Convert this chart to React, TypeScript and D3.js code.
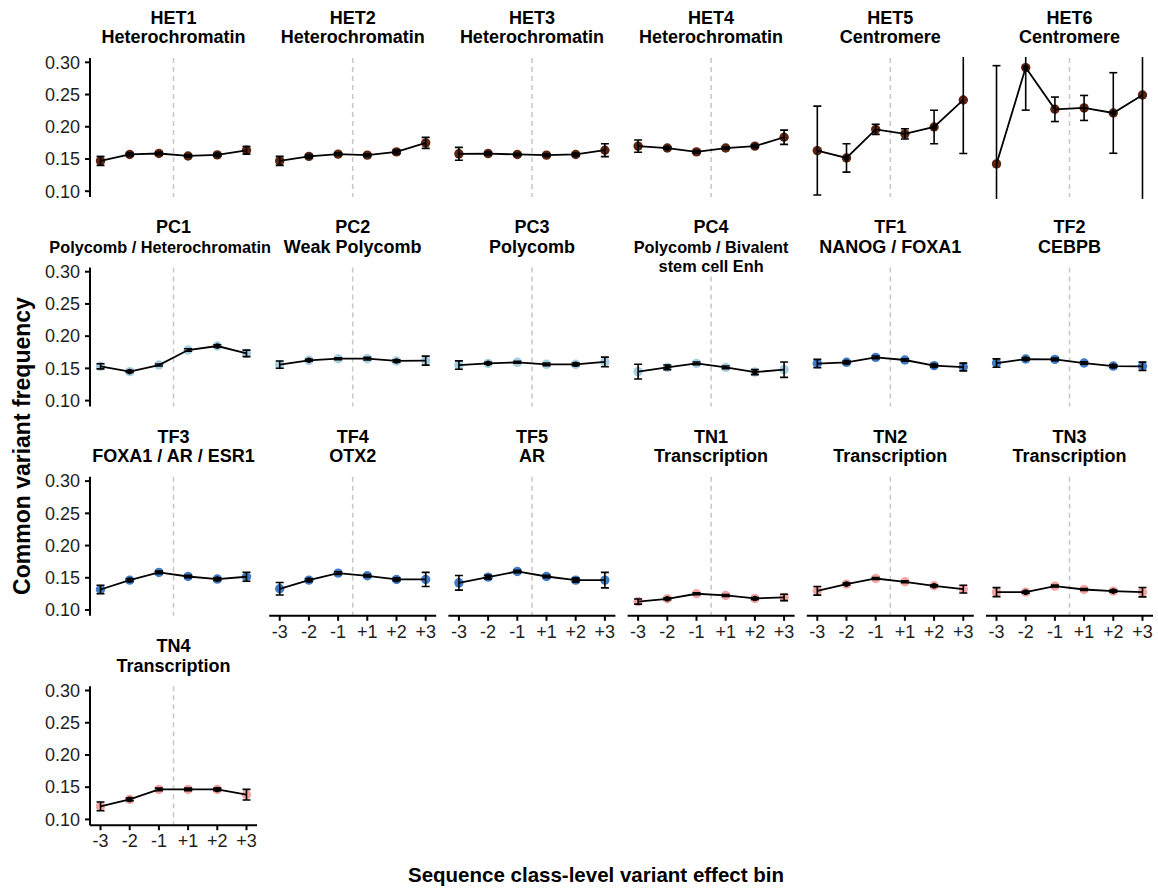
import React from "react";
import * as d3 from "d3";

// ---------- data ----------
const bins = ["-3", "-2", "-1", "+1", "+2", "+3"];
const yTicks = [0.1, 0.15, 0.2, 0.25, 0.3];

const panelCodes = [
  "HET1", "HET2", "HET3", "HET4", "HET5", "HET6",
  "PC1", "PC2", "PC3", "PC4", "TF1", "TF2",
  "TF3", "TF4", "TF5", "TN1", "TN2", "TN3", "TN4",
];
const panelNames = [
  "Heterochromatin", "Heterochromatin", "Heterochromatin", "Heterochromatin", "Centromere", "Centromere",
  "Polycomb / Heterochromatin", "Weak Polycomb", "Polycomb", "Polycomb / Bivalent\nstem cell Enh", "NANOG / FOXA1", "CEBPB",
  "FOXA1 / AR / ESR1", "OTX2", "AR", "Transcription", "Transcription", "Transcription", "Transcription",
];
const panelGroups = [
  "HET", "HET", "HET", "HET", "HET", "HET",
  "PC", "PC", "PC", "PC", "TF", "TF",
  "TF", "TF", "TF", "TN", "TN", "TN", "TN",
];

const freqHET1 = [0.147, 0.157, 0.1585, 0.1547, 0.1563, 0.1635];
const errHET1 = [0.007, 0.002, 0.002, 0.002, 0.002, 0.006];
const freqHET2 = [0.147, 0.154, 0.1575, 0.156, 0.161, 0.175];
const errHET2 = [0.007, 0.002, 0.002, 0.002, 0.003, 0.0085];
const freqHET3 = [0.158, 0.1584, 0.157, 0.156, 0.157, 0.1636];
const errHET3 = [0.01, 0.002, 0.002, 0.002, 0.002, 0.01];
const freqHET4 = [0.17, 0.167, 0.161, 0.167, 0.17, 0.1837];
const errHET4 = [0.0095, 0.002, 0.002, 0.002, 0.002, 0.011];
const freqHET5 = [0.163, 0.1516, 0.196, 0.189, 0.1997, 0.2416];
const errHET5 = [0.069, 0.022, 0.0078, 0.008, 0.026, 0.083];
const freqHET6 = [0.1423, 0.2918, 0.2271, 0.2292, 0.2214, 0.2493];
const errHET6 = [0.1525, 0.066, 0.019, 0.0194, 0.0625, 0.17];
const freqPC1 = [0.1532, 0.145, 0.1552, 0.1785, 0.1847, 0.1733];
const errPC1 = [0.004, 0.0015, 0.0015, 0.002, 0.002, 0.005];
const freqPC2 = [0.1558, 0.1625, 0.165, 0.165, 0.1615, 0.162];
const errPC2 = [0.0057, 0.0015, 0.0015, 0.002, 0.002, 0.007];
const freqPC3 = [0.1552, 0.1578, 0.1594, 0.1563, 0.1563, 0.16];
const errPC3 = [0.0065, 0.0015, 0.0015, 0.002, 0.002, 0.0075];
const freqPC4 = [0.145, 0.1516, 0.1578, 0.1516, 0.1443, 0.148];
const errPC4 = [0.0114, 0.0036, 0.002, 0.002, 0.004, 0.012];
const freqTF1 = [0.1574, 0.1594, 0.1671, 0.163, 0.1543, 0.1521];
const errTF1 = [0.0065, 0.002, 0.002, 0.002, 0.002, 0.006];
const freqTF2 = [0.1583, 0.1645, 0.164, 0.1583, 0.1536, 0.1532];
const errTF2 = [0.0065, 0.002, 0.002, 0.002, 0.002, 0.0065];
const freqTF3 = [0.1318, 0.1464, 0.1583, 0.152, 0.148, 0.1516];
const errTF3 = [0.0065, 0.002, 0.002, 0.002, 0.002, 0.007];
const freqTF4 = [0.1329, 0.1464, 0.1573, 0.1531, 0.1474, 0.1474];
const errTF4 = [0.0097, 0.002, 0.002, 0.002, 0.002, 0.011];
const freqTF5 = [0.1422, 0.151, 0.1598, 0.152, 0.1464, 0.1464];
const errTF5 = [0.0114, 0.003, 0.002, 0.002, 0.003, 0.012];
const freqTN1 = [0.1131, 0.1174, 0.1252, 0.1226, 0.1179, 0.1195];
const errTN1 = [0.004, 0.0015, 0.0015, 0.0015, 0.0015, 0.005];
const freqTN2 = [0.1298, 0.1402, 0.1489, 0.1438, 0.1376, 0.1324];
const errTN2 = [0.0067, 0.0015, 0.0015, 0.0015, 0.0015, 0.006];
const freqTN3 = [0.1277, 0.1277, 0.1371, 0.1318, 0.1293, 0.1277];
const errTN3 = [0.007, 0.0015, 0.0015, 0.0015, 0.0015, 0.0073];
const freqTN4 = [0.1202, 0.131, 0.1465, 0.1465, 0.1465, 0.1383];
const errTN4 = [0.0067, 0.002, 0.002, 0.002, 0.002, 0.0083];

const panelFreqs = [
  freqHET1, freqHET2, freqHET3, freqHET4, freqHET5, freqHET6,
  freqPC1, freqPC2, freqPC3, freqPC4, freqTF1, freqTF2,
  freqTF3, freqTF4, freqTF5, freqTN1, freqTN2, freqTN3, freqTN4,
];
const panelErrs = [
  errHET1, errHET2, errHET3, errHET4, errHET5, errHET6,
  errPC1, errPC2, errPC3, errPC4, errTF1, errTF2,
  errTF3, errTF4, errTF5, errTN1, errTN2, errTN3, errTN4,
];

// bins where the black summary point is drawn over the coloured point
const solidBins = ["-2", "+2"];

const groupColors: Record<string, string> = {
  HET: "#5b2410",
  PC: "#a6cee3",
  TF: "#3f7bc4",
  TN: "#f4a5a3",
};

// ---------- layout ----------
const W = 1158;
const H = 888;
const NCOL = 6;
const PLOT_LEFT = 90;
const COL_STEP = 179.2;
const PANEL_W = 167;
const PLOT_TOP = 58;
const ROW_STEP = 209.4;
const PANEL_H = 139;
const FONT = "'Liberation Sans', Arial, Helvetica, sans-serif";
const TICK_SIZE = 18;

export default function App() {
  const nPanels = panelCodes.length;
  return (
    <svg
      width={W}
      height={H}
      style={{ position: "absolute", left: 0, top: 0, background: "#fff" }}
      fontFamily={FONT}
    >
      <rect x={0} y={0} width={W} height={H} fill="#fff" />
      {panelCodes.map((code, i) => {
        const row = Math.floor(i / NCOL);
        const col = i % NCOL;
        const left = PLOT_LEFT + col * COL_STEP;
        const top = PLOT_TOP + row * ROW_STEP;
        const x = d3.scalePoint<string>().domain(bins).range([left, left + PANEL_W]).padding(0.36);
        const y = d3.scaleLinear().domain([0.091, 0.3067]).range([top + PANEL_H, top]);
        const freqs = panelFreqs[i];
        const errs = panelErrs[i];
        const color = groupColors[panelGroups[i]];
        const pts = bins.map((b, j) => ({ b, v: freqs[j], e: errs[j] }));
        const line = d3
          .line<{ b: string; v: number }>()
          .x((d) => x(d.b) as number)
          .y((d) => y(d.v));
        const dashX = ((x("-1") as number) + (x("+1") as number)) / 2;
        const showY = col === 0;
        const showX = i + NCOL >= nPanels;
        const subLines = panelNames[i].split("\n");
        const subSize = panelNames[i].length > 18 ? 16.3 : 18;
        const cx = left + PANEL_W / 2;
        const titleBase = 24 + row * ROW_STEP;
        const clipId = `clip-${i}`;
        return (
          <g key={code}>
            <defs>
              <clipPath id={clipId}>
                <rect x={left - 10} y={top - 1} width={PANEL_W + 20} height={PANEL_H + 3} />
              </clipPath>
            </defs>
            {/* strip titles */}
            <text x={cx} y={titleBase} textAnchor="middle" fontWeight="bold" fontSize={18} fill="#000">
              {code}
            </text>
            {subLines.map((s, k) => {
              const estW = s.length * 0.523 * subSize;
              const sx = Math.min(cx, left + PANEL_W + 14 - estW / 2);
              return (
                <text
                  key={k}
                  x={sx}
                  y={titleBase + 19.3 * (k + 1)}
                  textAnchor="middle"
                  fontWeight="bold"
                  fontSize={subSize}
                  fill="#000"
                >
                  {s}
                </text>
              );
            })}
            {/* dashed separator */}
            <line
              x1={dashX}
              x2={dashX}
              y1={top}
              y2={top + PANEL_H}
              stroke="#c9c9c9"
              strokeWidth={1.6}
              strokeDasharray="5,4"
            />
            <g clipPath={`url(#${clipId})`}>
              {/* coloured points */}
              {pts.map((d) => (
                <circle key={"c" + d.b} cx={x(d.b) as number} cy={y(d.v)} r={4.7} fill={color} />
              ))}
              {/* connecting line */}
              <path d={line(pts) || ""} fill="none" stroke="#000" strokeWidth={1.8} />
              {/* error bars */}
              {pts.map((d) => {
                const px = x(d.b) as number;
                const y1 = y(d.v + d.e);
                const y2 = y(d.v - d.e);
                return (
                  <g key={"e" + d.b} stroke="#000" strokeWidth={1.6}>
                    <line x1={px} x2={px} y1={y1} y2={y2} />
                    <line x1={px - 4} x2={px + 4} y1={y1} y2={y1} />
                    <line x1={px - 4} x2={px + 4} y1={y2} y2={y2} />
                  </g>
                );
              })}
              {/* black summary points */}
              {pts
                .filter((d) => solidBins.includes(d.b))
                .map((d) => (
                  <circle key={"b" + d.b} cx={x(d.b) as number} cy={y(d.v)} r={2.8} fill="#000" />
                ))}
            </g>
            {/* y axis */}
            {showY && (
              <g>
                <line x1={left} x2={left} y1={top} y2={top + PANEL_H} stroke="#000" strokeWidth={2} />
                {yTicks.map((t) => (
                  <g key={t}>
                    <line x1={left - 5} x2={left} y1={y(t)} y2={y(t)} stroke="#000" strokeWidth={2} />
                    <text x={left - 10} y={y(t) + 6.3} textAnchor="end" fontSize={TICK_SIZE} fill="#1e1e1e">
                      {d3.format(".2f")(t)}
                    </text>
                  </g>
                ))}
              </g>
            )}
            {/* x axis */}
            {showX && (
              <g>
                <line
                  x1={left}
                  x2={left + PANEL_W}
                  y1={top + PANEL_H}
                  y2={top + PANEL_H}
                  stroke="#000"
                  strokeWidth={2}
                />
                {bins.map((b) => (
                  <g key={b}>
                    <line
                      x1={x(b) as number}
                      x2={x(b) as number}
                      y1={top + PANEL_H}
                      y2={top + PANEL_H + 5}
                      stroke="#000"
                      strokeWidth={2}
                    />
                    <text
                      x={x(b) as number}
                      y={top + PANEL_H + 22}
                      textAnchor="middle"
                      fontSize={TICK_SIZE}
                      fill="#1e1e1e"
                    >
                      {b}
                    </text>
                  </g>
                ))}
              </g>
            )}
          </g>
        );
      })}
      {/* axis titles */}
      <text x={596} y={882} textAnchor="middle" fontWeight="bold" fontSize={20.5} fill="#000">
        Sequence class-level variant effect bin
      </text>
      <text
        transform="translate(29.5,446) rotate(-90)"
        textAnchor="middle"
        fontWeight="bold"
        fontSize={23}
        fill="#000"
      >
        Common variant frequency
      </text>
    </svg>
  );
}
